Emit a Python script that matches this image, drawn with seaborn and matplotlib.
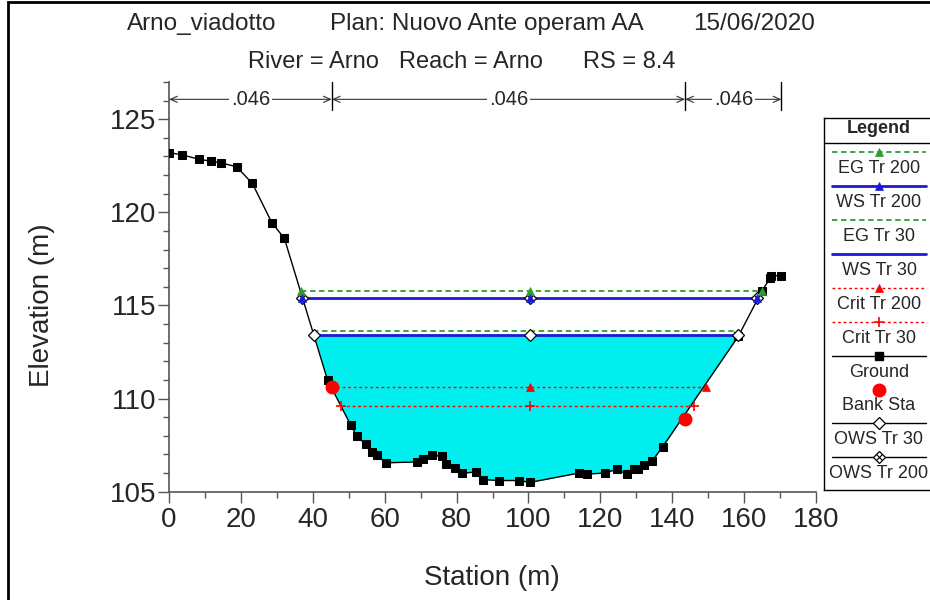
import numpy as np
import matplotlib
matplotlib.use('Agg')
import matplotlib.pyplot as plt
import seaborn as sns
from matplotlib.ticker import MultipleLocator
from matplotlib.patches import Rectangle

# ground profile (station, elevation)
station = [0.0, 3.5, 8.3, 11.7, 14.6, 18.8, 23.2, 28.6, 32.1, 44.1, 50.5, 52.2,
           54.7, 56.4, 57.8, 60.4, 69.1, 70.6, 73.1, 75.9, 77.2, 79.6, 81.6,
           85.3, 87.4, 91.8, 97.4, 100.4, 114.0, 116.4, 121.3, 124.5, 127.3,
           129.3, 130.6, 132.2, 134.4, 137.3, 158.4, 165.0, 167.2, 167.6, 170.4]
elevation = [123.2, 123.1, 122.85, 122.75, 122.65, 122.45, 121.55, 119.45, 118.6,
             111.0, 108.6, 108.0, 107.55, 107.15, 106.95, 106.55, 106.6, 106.75,
             106.95, 106.9, 106.5, 106.25, 106.0, 106.05, 105.65, 105.6, 105.6,
             105.5, 106.0, 105.95, 106.0, 106.2, 105.95, 106.2, 106.2, 106.45,
             106.65, 107.4, 113.35, 115.8, 116.45, 116.6, 116.6]

bank_sta = [45.3, 143.6]
bank_elev = [110.64, 108.92]

# water surface profiles
profiles = ['EG Tr 200', 'WS Tr 200', 'EG Tr 30', 'WS Tr 30', 'Crit Tr 200', 'Crit Tr 30']
prof_elev = [115.78, 115.39, 113.63, 113.40, 110.64, 109.60]
prof_left = [36.6, 37.0, 40.0, 40.4, 45.2, 47.9]
prof_right = [164.9, 163.7, 158.8, 158.4, 149.3, 146.1]
mid_station = 100.4

n_values = ['.046', '.046', '.046']
n_breaks = [0, 45.3, 143.6, 170.4]

title_1 = ['Arno_viadotto', 'Plan: Nuovo Ante operam AA', '15/06/2020']
title_2 = ['River = Arno', 'Reach = Arno', 'RS = 8.4']

sns.set_style('ticks')
plt.rcParams['font.family'] = ['Liberation Sans', 'DejaVu Sans']

W, H = 930, 600
fig = plt.figure(figsize=(W / 100, H / 100), dpi=100)
ax = fig.add_axes([169 / W, 1 - 491.7 / H, (816 - 169) / W, (491.7 - 82) / H])

green = '#2e9e2e'
blue = '#1a1ad6'
red = '#ff0000'

styles = {
    'EG Tr 200': dict(color=green, ls=(0, (3, 2)), lw=1.3, marker='^'),
    'WS Tr 200': dict(color=blue, ls='-', lw=2.0, marker='^'),
    'EG Tr 30': dict(color=green, ls=(0, (3, 2)), lw=1.3, marker=None),
    'WS Tr 30': dict(color=blue, ls='-', lw=2.0, marker=None),
    'Crit Tr 200': dict(color=red, ls=(0, (2, 2)), lw=1.0, marker='^'),
    'Crit Tr 30': dict(color=red, ls=(0, (2, 2)), lw=1.0, marker='+'),
}

# flow area of Tr 30
ws30 = prof_elev[3]
xf = np.linspace(prof_left[3], prof_right[3], 3000)
gf = np.interp(xf, station, elevation)
ax.fill_between(xf, gf, ws30, where=gf <= ws30, interpolate=True,
                color='#00f0f0', lw=0, zorder=1)

# ground
sns.lineplot(x=station, y=elevation, color='black', lw=1.0, marker='s',
             markersize=6, markeredgecolor='black', ax=ax, zorder=4, sort=False)

# profile lines
for name, z, xl, xr in zip(profiles, prof_elev, prof_left, prof_right):
    st = styles[name]
    ax.plot([xl, xr], [z, z], color=st['color'], ls=st['ls'], lw=st['lw'], zorder=3)

# OWS markers
for idx in (3, 1):
    xs = [prof_left[idx], mid_station, prof_right[idx]]
    zs = [prof_elev[idx]] * 3
    ax.plot(xs, zs, ls='none', marker='D', ms=6.5, mfc='white', mec='black',
            mew=0.9, zorder=5)
    if idx == 1:
        ax.plot(xs, zs, ls='none', marker='x', ms=4, mec='black', mew=0.8, zorder=5)

for name, z, xl, xr in zip(profiles, prof_elev, prof_left, prof_right):
    st = styles[name]
    if st['marker'] is None:
        continue
    ax.plot([xl, mid_station, xr], [z, z, z], ls='none', marker=st['marker'],
            ms=7 if st['marker'] == '+' else 6, color=st['color'],
            mew=1.2 if st['marker'] == '+' else 0.5, zorder=6)

ax.plot(bank_sta, bank_elev, ls='none', marker='o', ms=9, color=red, zorder=7)

# Manning's n brackets
y_arrow = 126.07
for xb in n_breaks[1:]:
    ax.plot([xb, xb], [125.5, 127.0], color='black', lw=1.0, zorder=3, clip_on=False)
for n, x0, x1 in zip(n_values, n_breaks[:-1], n_breaks[1:]):
    xm = (x0 + x1) / 2
    for xe in (x0, x1):
        ax.annotate('', xy=(xe, y_arrow), xytext=(xm, y_arrow),
                    arrowprops=dict(arrowstyle='->,head_length=0.5,head_width=0.22',
                                    color='#333333', lw=0.8, shrinkA=0, shrinkB=0))
    ax.text(xm, y_arrow, n, ha='center', va='center', fontsize=14.5,
            bbox=dict(facecolor='white', edgecolor='none', pad=1.5), zorder=8)

ax.set_xlim(0, 180)
ax.set_ylim(105, 127)
ax.xaxis.set_major_locator(MultipleLocator(20))
ax.xaxis.set_minor_locator(MultipleLocator(10))
ax.yaxis.set_minor_locator(MultipleLocator(1))
ax.set_yticks([105, 110, 115, 120, 125])
ax.tick_params(which='major', length=8, width=1, color='#555555', labelsize=20, pad=3)
ax.tick_params(which='minor', length=4.5, width=1, color='#555555')
ax.tick_params(axis='y', which='major', pad=1)
for side in ('top', 'right'):
    ax.spines[side].set_visible(False)
for side in ('left', 'bottom'):
    ax.spines[side].set_color('#555555')
    ax.spines[side].set_linewidth(1.2)
ax.set_xlabel('Station (m)', fontsize=20)
ax.set_ylabel('Elevation (m)', fontsize=20)
ax.xaxis.set_label_coords((492 - 169) / (816 - 169), -(565 - 491.7) / (491.7 - 82))
ax.yaxis.set_label_coords(-(169 - 55) / (816 - 169), (491.7 - 305) / (491.7 - 82))

# titles
fig.text(127 / W, 1 - 24 / H, title_1[0], ha='left', va='center', fontsize=17.5)
fig.text(330 / W, 1 - 24 / H, title_1[1], ha='left', va='center', fontsize=17.5)
fig.text(815 / W, 1 - 24 / H, title_1[2], ha='right', va='center', fontsize=17.5)
for txt, xp in zip(title_2, [248, 399, 583]):
    fig.text(xp / W, 1 - 62 / H, txt, ha='left', va='center', fontsize=17)

# legend panel
lax = fig.add_axes([824 / W, 1 - 490 / H, (936 - 824) / W, (490 - 118) / H])
lax.set_xlim(824, 936)
lax.set_ylim(490, 118)
lax.set_xticks([])
lax.set_yticks([])
for sp in lax.spines.values():
    sp.set_color('black')
    sp.set_linewidth(1.0)
lax.text(879, 128.5, 'Legend', ha='center', va='center', fontsize=13, fontweight='bold')
lax.plot([824, 936], [142.7, 142.7], color='black', lw=1.0)

leg_items = ['EG Tr 200', 'WS Tr 200', 'EG Tr 30', 'WS Tr 30', 'Crit Tr 200',
             'Crit Tr 30', 'Ground', 'Bank Sta', 'OWS Tr 30', 'OWS Tr 200']
for i, name in enumerate(leg_items):
    ys = 152.3 + 33.9 * i
    yl = 168.7 + 33.9 * i
    if name in styles:
        st = styles[name]
        lax.plot([832, 926], [ys, ys], color=st['color'], ls=st['ls'], lw=st['lw'])
        if st['marker'] is not None:
            lax.plot([879], [ys], ls='none', marker=st['marker'], color=st['color'],
                     ms=7 if st['marker'] == '+' else 6,
                     mew=1.2 if st['marker'] == '+' else 0.5)
    elif name == 'Ground':
        lax.plot([832, 926], [ys, ys], color='black', lw=1.0)
        lax.plot([879], [ys], ls='none', marker='s', ms=6, color='black')
    elif name == 'Bank Sta':
        lax.plot([879], [ys], ls='none', marker='o', ms=9, color=red)
    else:
        lax.plot([832, 926], [ys, ys], color='black', lw=1.0)
        lax.plot([879], [ys], ls='none', marker='D', ms=6.5, mfc='white', mec='black', mew=0.9)
        if name == 'OWS Tr 200':
            lax.plot([879], [ys], ls='none', marker='x', ms=4, mec='black', mew=0.8)
    lax.text(879, yl, name, ha='center', va='center', fontsize=13)

# outer frame
fig.patches.append(Rectangle((8 / W, -0.1), 1.2, 1.1 - 2 / H, transform=fig.transFigure,
                             fill=False, edgecolor='black', lw=2))

fig.savefig('out.png', dpi=100)
